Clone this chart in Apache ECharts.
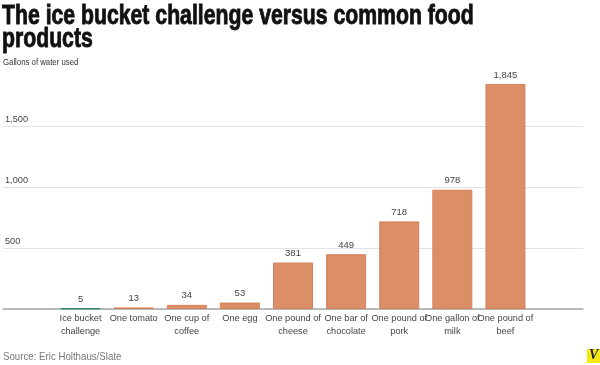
<!DOCTYPE html>
<html><head><meta charset="utf-8">
<script src="https://cdn.jsdelivr.net/npm/echarts@6/dist/echarts.min.js"></script>
<style>html,body{margin:0;padding:0;background:#fff}#c{width:600px;height:365px}</style>
</head><body><div id="c"></div>
<script>
const categories = ['Ice bucket\nchallenge','One tomato','One cup of\ncoffee','One egg','One pound of\ncheese','One bar of\nchocolate','One pound of\npork','One gallon of\nmilk','One pound of\nbeef'];
const gallons = [5, 13, 34, 53, 381, 449, 718, 978, 1845];
const yTicks = [0, 500, 1000, 1500, 2000];
const titleLines = ['The ice bucket challenge versus common food', 'products'];
const subtitleText = 'Gallons of water used';
const sourceText = 'Source: Eric Holthaus/Slate';

const SANS = '"Liberation Sans", Arial, sans-serif';
const chart = echarts.init(document.getElementById('c'), null, {renderer: 'canvas'});
const barData = gallons.map((v, i) => ({
  value: v,
  itemStyle: i === 0 ? {color: '#2e8a60', borderColor: '#2e8a60'} : {color: '#dc8e66', borderColor: '#d4825a'}
}));
const titleFont = 'bold 28px "Liberation Sans", Arial, sans-serif';
chart.setOption({
  animation: false,
  backgroundColor: '#fff',
  grid: [
    {left: 3, right: 17, top: 65, bottom: 56},
    {left: 54, width: 478, top: 65, bottom: 56}
  ],
  xAxis: [
    {gridIndex: 0, type: 'value', min: 0, max: 1, axisLine: {show: true, onZero: false, lineStyle: {color: '#a8a8a8', width: 1.5}}, axisTick: {show: false}, axisLabel: {show: false}, splitLine: {show: false}},
    {gridIndex: 1, type: 'category', data: categories, axisLine: {show: false}, axisTick: {show: false},
     axisLabel: {interval: 0, margin: 3, fontFamily: SANS, fontSize: 9.2, color: '#444', lineHeight: 13}}
  ],
  yAxis: [
    {gridIndex: 0, type: 'value', min: yTicks[0], max: yTicks[yTicks.length - 1], interval: 500,
     axisLine: {show: false}, axisTick: {show: false},
     splitLine: {show: true, lineStyle: {color: ['#e2e2e2', '#e2e2e2', '#e2e2e2', '#e2e2e2', 'rgba(0,0,0,0)'], width: 1}},
     axisLabel: {inside: true, margin: 2, verticalAlign: 'bottom', padding: [0, 0, 2, 0], fontFamily: SANS, fontSize: 9.2, color: '#444',
       formatter: v => (v === 0 || v === 2000) ? '' : v.toLocaleString('en-US')}},
    {gridIndex: 1, type: 'value', min: yTicks[0], max: yTicks[yTicks.length - 1], interval: 500, show: false, splitLine: {show: false}}
  ],
  series: [{
    type: 'bar', xAxisIndex: 1, yAxisIndex: 1, barWidth: 40, data: barData,
    itemStyle: {borderWidth: 1},
    label: {show: true, position: 'top', distance: 4, fontFamily: SANS, fontSize: 9.5, color: '#444',
      formatter: p => p.value.toLocaleString('en-US')}
  }],
  graphic: [
    {type: 'text', x: 2, y: 30, scaleX: 0.758, style: {text: titleLines[0], font: titleFont, fill: '#111', stroke: '#111', lineWidth: 0.9, verticalAlign: 'bottom'}},
    {type: 'text', x: 2, y: 53, scaleX: 0.758, style: {text: titleLines[1], font: titleFont, fill: '#111', stroke: '#111', lineWidth: 0.9, verticalAlign: 'bottom'}},
    {type: 'text', x: 3, y: 57, scaleX: 0.82, style: {text: subtitleText, font: '9.5px "Liberation Sans", Arial, sans-serif', fill: '#333'}},
    {type: 'text', x: 3, y: 351, scaleX: 0.88, style: {text: sourceText, font: '11px "Liberation Sans", Arial, sans-serif', fill: '#777'}},
    {type: 'rect', x: 587, y: 349, shape: {width: 13, height: 14}, style: {fill: '#f5e914'}},
    {type: 'text', x: 589, y: 348, style: {text: 'V', font: 'italic bold 14px "Liberation Serif", serif', fill: '#1a1a3a'}}
  ]
});
</script></body></html>
